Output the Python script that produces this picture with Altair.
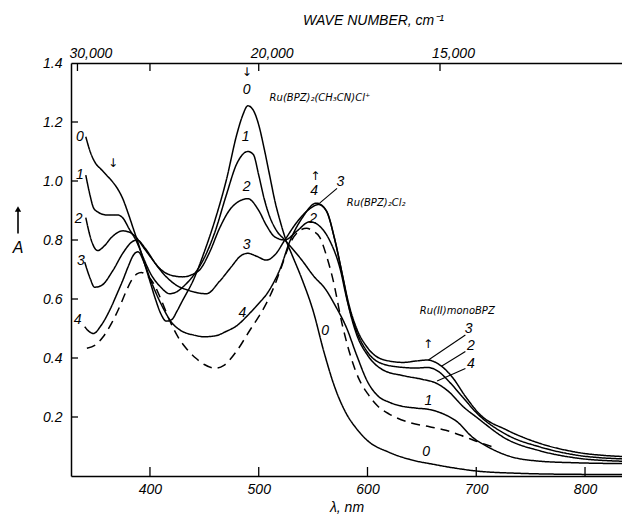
import altair as alt
import pandas as pd

# ---------------- curve data (wavelength nm, absorbance) ----------------
lam0 = [341, 345, 350, 355, 360, 365, 370, 375, 380, 385, 390, 395, 400, 405, 410, 415, 420, 425, 430,
        440, 450, 460, 470, 480, 485, 490, 495, 500, 505, 510, 515, 520, 525, 530, 540, 550, 560, 570,
        580, 590, 600, 620, 640, 660, 680, 700, 740, 780, 834]
a0 = [1.15, 1.10, 1.06, 1.04, 1.02, 1.00, 0.975, 0.94, 0.89, 0.835, 0.78, 0.72, 0.66, 0.60, 0.55, 0.525,
      0.53, 0.56, 0.595, 0.665, 0.76, 0.87, 1.00, 1.16, 1.22, 1.255, 1.24, 1.19, 1.11, 1.02, 0.93, 0.86,
      0.80, 0.755, 0.665, 0.56, 0.42, 0.30, 0.215, 0.16, 0.12, 0.08, 0.055, 0.04, 0.027, 0.017, 0.009,
      0.006, 0.005]

lam1 = [341, 345, 348, 352, 360, 370, 375, 381, 387, 395, 400, 410, 418, 425, 430, 441, 450, 460, 470,
        480, 490, 495, 500, 505, 510, 516, 524, 530, 540, 550, 562, 570, 581, 590, 600, 610, 620, 630,
        645, 656, 670, 682, 697, 710, 728, 759, 790, 834]
a1 = [1.02, 0.95, 0.91, 0.895, 0.885, 0.885, 0.875, 0.837, 0.80, 0.73, 0.69, 0.64, 0.618, 0.625, 0.64,
      0.685, 0.74, 0.83, 0.95, 1.06, 1.10, 1.09, 1.02, 0.94, 0.88, 0.834, 0.80, 0.775, 0.73, 0.68, 0.63,
      0.58, 0.50, 0.41, 0.32, 0.27, 0.25, 0.238, 0.23, 0.226, 0.21, 0.185, 0.13, 0.10, 0.07, 0.05,
      0.045, 0.042]

lam2 = [341, 346, 352, 358, 365, 375, 380, 387, 395, 400, 410, 420, 430, 440, 446, 455, 464, 475, 490,
        500, 507, 515, 524, 535, 547, 555, 565, 575, 581, 590, 600, 614, 633, 645, 655, 665, 675, 688,
        700, 728, 759, 790, 834]
a2 = [0.876, 0.80, 0.764, 0.78, 0.81, 0.831, 0.828, 0.81, 0.77, 0.745, 0.70, 0.68, 0.675, 0.685, 0.70,
      0.76, 0.84, 0.91, 0.94, 0.90, 0.85, 0.81, 0.80, 0.83, 0.862, 0.85, 0.80, 0.70, 0.60, 0.49, 0.42,
      0.38, 0.368, 0.366, 0.368, 0.355, 0.32, 0.265, 0.215, 0.14, 0.098, 0.072, 0.058]

lam3 = [340, 345, 349, 355, 366, 375, 384, 388, 396, 405, 415, 425, 435, 445, 452, 464, 475, 483, 490,
        498, 507, 515, 524, 535, 545, 555, 562, 570, 577, 583, 590, 600, 614, 633, 645, 655, 667, 678,
        690, 703, 728, 759, 790, 834]
a3 = [0.725, 0.67, 0.64, 0.645, 0.697, 0.755, 0.795, 0.80, 0.77, 0.72, 0.675, 0.645, 0.63, 0.62, 0.618,
      0.66, 0.71, 0.745, 0.755, 0.745, 0.732, 0.75, 0.80, 0.86, 0.90, 0.92, 0.90, 0.80, 0.68, 0.58, 0.50,
      0.435, 0.395, 0.385, 0.39, 0.393, 0.375, 0.335, 0.27, 0.21, 0.156, 0.11, 0.082, 0.066]

lam4 = [340, 344, 348, 355, 363, 370, 375, 380, 385, 389, 395, 400, 412, 420, 428, 440, 450, 460, 470,
        480, 490, 500, 507, 515, 520, 528, 540, 553, 562, 570, 577, 583, 590, 600, 614, 633, 650, 663,
        675, 688, 700, 728, 759, 790, 834]
a4 = [0.506, 0.49, 0.483, 0.51, 0.562, 0.62, 0.663, 0.71, 0.75, 0.76, 0.72, 0.67, 0.57, 0.52, 0.494,
      0.478, 0.472, 0.475, 0.49, 0.51, 0.545, 0.585, 0.615, 0.665, 0.705, 0.79, 0.875, 0.925, 0.90, 0.80,
      0.68, 0.57, 0.48, 0.41, 0.36, 0.34, 0.328, 0.315, 0.285, 0.235, 0.20, 0.125, 0.085, 0.062, 0.05]

lam_d = [342, 350, 357, 365, 372, 378, 383, 388, 392, 397, 403, 410, 418, 426, 434, 442, 450, 460, 468,
         480, 492, 500, 507, 515, 520, 529, 537, 544, 550, 556, 562, 568, 577, 585, 592, 600, 610, 620,
         627, 640, 657, 672, 688, 700, 714]
a_d = [0.433, 0.445, 0.472, 0.52, 0.573, 0.625, 0.663, 0.685, 0.69, 0.68, 0.655, 0.60, 0.528, 0.47,
       0.43, 0.40, 0.378, 0.365, 0.375, 0.425, 0.495, 0.54, 0.585, 0.65, 0.70, 0.79, 0.83, 0.84, 0.83,
       0.81, 0.75, 0.67, 0.51, 0.40, 0.33, 0.28, 0.235, 0.21, 0.197, 0.18, 0.167, 0.155, 0.135, 0.118,
       0.10]

series = [("0", lam0, a0, "solid"), ("1", lam1, a1, "solid"), ("2", lam2, a2, "solid"),
          ("3", lam3, a3, "solid"), ("4", lam4, a4, "solid"), ("final", lam_d, a_d, "dashed")]

# ---------------- axes / tick data ----------------
x_ticks = [400, 500, 600, 700, 800]
y_ticks = [0.2, 0.4, 0.6, 0.8, 1.0, 1.2, 1.4]
y_inner_ticks = [0.2, 0.4, 0.6, 0.8, 1.0, 1.2]
wn_ticks = [30000, 25000, 20000, 15000]
wn_labels = ["30,000", "", "20,000", "15,000"]

# ---------------- annotations ----------------
num_text = ["0", "1", "2", "3", "4", "0", "1", "2", "3", "4", "4", "3", "2",
            "3", "2", "4", "1", "0", "0"]
num_x = [335.5, 335.5, 334.5, 336.5, 333.5, 489, 488, 489, 489, 485, 551, 575, 550,
         693, 695, 695, 656, 561, 654]
num_y = [1.149, 1.02, 0.87, 0.73, 0.53, 1.31, 1.15, 0.978, 0.783, 0.553, 0.965, 0.995, 0.872,
         0.50, 0.44, 0.38, 0.255, 0.49, 0.082]

arrow_text = ["↓", "↓", "↑", "↑"]
arrow_x = [366, 489, 552, 655.6]
arrow_y = [1.06, 1.37, 1.017, 0.446]

name_text = ["Ru(BPZ)₂(CH₃CN)Cl⁺", "Ru(BPZ)₂Cl₂", "Ru(II)monoBPZ"]
name_x = [510, 581, 648]
name_y = [1.28, 0.925, 0.558]

lead_x1 = [572, 690, 690, 690]
lead_y1 = [0.975, 0.478, 0.422, 0.364]
lead_x2 = [556, 656, 668, 664]
lead_y2 = [0.925, 0.393, 0.372, 0.322]

y_title = "A"
y_title_pos = 0.773
y_arrow_from, y_arrow_to = 0.822, 0.905

# ---------------- build tables ----------------
rows = []
for name, lams, vals, style in series:
    for l, v in zip(lams, vals):
        rows.append({"curve": name, "lam": l, "A": v, "style": style})
df = pd.DataFrame(rows)

W, H = 551, 413
FONT = "Liberation Sans"
xscale = alt.Scale(domain=[327.4, 834], nice=False, zero=False)
yscale = alt.Scale(domain=[0, 1.4], nice=False, zero=True)

lines = alt.Chart(df).mark_line(color="black", strokeWidth=1.5, interpolate="monotone").encode(
    x=alt.X("lam:Q", scale=xscale,
            axis=alt.Axis(orient="bottom", values=x_ticks, format="d", ticks=False, grid=False,
                          title="λ, nm", labelFont=FONT, labelFontSize=14, labelFontStyle="italic",
                          labelColor="black", labelPadding=6, titleFont=FONT, titleFontSize=14,
                          titleFontStyle="italic", titleFontWeight="normal", titleColor="black",
                          titlePadding=4, domainColor="black", domainWidth=1.5)),
    y=alt.Y("A:Q", scale=yscale,
            axis=alt.Axis(orient="left", values=y_ticks, format=".1f", ticks=False, grid=False,
                          title=None, labelFont=FONT, labelFontSize=14, labelFontStyle="italic",
                          labelColor="black", labelPadding=9, domainColor="black", domainWidth=1.5)),
    detail="curve:N",
    strokeDash=alt.StrokeDash("style:N", scale=alt.Scale(domain=["solid", "dashed"],
                                                         range=[[1, 0], [9, 6]]), legend=None),
)

label_expr = "round(1e7/datum.value) == 25000 ? '' : format(round(1e7/datum.value), ',')"
top_df = pd.DataFrame({"lam": [1e7 / w for w in wn_ticks], "lab": wn_labels})
top_ticks = alt.Chart(top_df).mark_rule(color="black", strokeWidth=1.3).encode(
    x=alt.X("lam:Q", scale=xscale,
            axis=alt.Axis(orient="top", values=[1e7 / w for w in wn_ticks], labelExpr=label_expr,
                          ticks=False, grid=False, labelFont=FONT, labelFontSize=14,
                          labelFontStyle="italic", labelColor="black", labelPadding=3, labelOffset=13,
                          title="WAVE NUMBER, cm⁻¹", titleFont=FONT, titleFontSize=14,
                          titleFontStyle="italic", titleFontWeight="normal", titleColor="black",
                          titleX=302, titleY=-43, titleBaseline="middle", titleAlign="center",
                          domainColor="black", domainWidth=1.5)),
    y=alt.value(0), y2=alt.value(8),
)

bottom_ticks = alt.Chart(pd.DataFrame({"lam": x_ticks})).mark_rule(color="black", strokeWidth=1.3).encode(
    x=alt.X("lam:Q", scale=xscale, axis=None), y=alt.value(H), y2=alt.value(H - 9))

left_ticks = alt.Chart(pd.DataFrame({"A": y_inner_ticks})).mark_rule(color="black", strokeWidth=1.3).encode(
    y=alt.Y("A:Q", scale=yscale, axis=None), x=alt.value(0), x2=alt.value(7))

nums = alt.Chart(pd.DataFrame({"t": num_text, "lam": num_x, "A": num_y})).mark_text(
    font=FONT, fontSize=14, fontStyle="italic", color="black").encode(
    x=alt.X("lam:Q", scale=xscale, axis=None), y=alt.Y("A:Q", scale=yscale, axis=None), text="t:N")

arrows = alt.Chart(pd.DataFrame({"t": arrow_text, "lam": arrow_x, "A": arrow_y})).mark_text(
    font="DejaVu Sans", fontSize=12, color="black").encode(
    x=alt.X("lam:Q", scale=xscale, axis=None), y=alt.Y("A:Q", scale=yscale, axis=None), text="t:N")

names = alt.Chart(pd.DataFrame({"t": name_text, "lam": name_x, "A": name_y})).mark_text(
    font="DejaVu Sans", fontSize=10, fontStyle="italic", color="black", align="left").encode(
    x=alt.X("lam:Q", scale=xscale, axis=None), y=alt.Y("A:Q", scale=yscale, axis=None), text="t:N")

leaders = alt.Chart(pd.DataFrame({"x1": lead_x1, "y1": lead_y1, "x2": lead_x2, "y2": lead_y2})).mark_rule(
    color="black", strokeWidth=1.1).encode(
    x=alt.X("x1:Q", scale=xscale, axis=None), x2="x2:Q",
    y=alt.Y("y1:Q", scale=yscale, axis=None), y2="y2:Q")

ytitle = alt.Chart(pd.DataFrame({"t": [y_title], "A": [y_title_pos]})).mark_text(
    font=FONT, fontSize=16, fontStyle="italic", color="black").encode(
    x=alt.value(-53), y=alt.Y("A:Q", scale=yscale, axis=None), text="t:N")

yarrow_shaft = alt.Chart(pd.DataFrame({"a1": [y_arrow_from], "a2": [y_arrow_to]})).mark_rule(
    color="black", strokeWidth=1.6).encode(
    x=alt.value(-53), y=alt.Y("a1:Q", scale=yscale, axis=None), y2="a2:Q")

yarrow_head = alt.Chart(pd.DataFrame({"a": [y_arrow_to]})).mark_point(
    shape="triangle-up", filled=True, color="black", size=40, opacity=1).encode(
    x=alt.value(-53), y=alt.Y("a:Q", scale=yscale, axis=None))

chart = alt.layer(lines, top_ticks, bottom_ticks, left_ticks, leaders, nums, arrows, names, ytitle,
                  yarrow_shaft, yarrow_head).resolve_axis(
    x="independent", y="independent"
).properties(
    width=W, height=H,
    padding={"left": 71, "top": 63, "right": 0, "bottom": 40},
    autosize=alt.AutoSizeParams(type="none"),
    background="white",
).configure_view(stroke=None)

chart.save("out.html", embed_options={"renderer": "svg", "actions": False})
